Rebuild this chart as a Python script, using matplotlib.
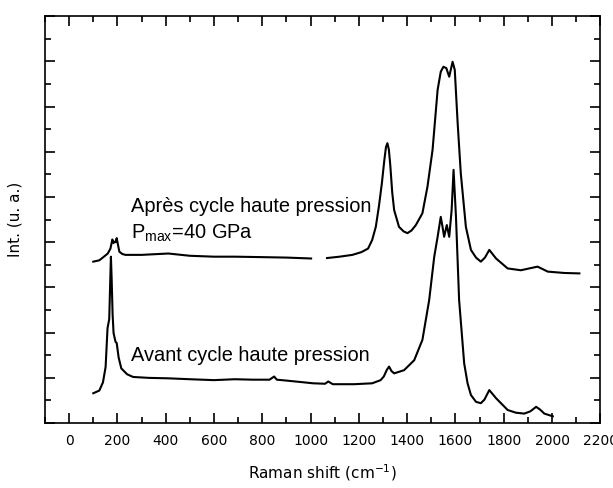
import matplotlib
matplotlib.use("Agg")
import matplotlib.pyplot as plt
from matplotlib.ticker import MultipleLocator, NullFormatter

# Avant cycle haute pression (before)
avant_x = [100, 125, 140, 151, 159, 166, 170, 173, 176, 180, 184, 192, 197, 205, 216, 240, 265, 330, 411, 500, 600, 686,
           760, 830, 849, 860, 900, 1011, 1060, 1073, 1092, 1180, 1255, 1290, 1303, 1316, 1325, 1335, 1346,
           1387, 1429, 1463, 1491, 1512, 1526, 1539, 1546, 1553, 1564, 1574, 1584, 1592, 1602, 1615, 1636,
           1650, 1664, 1685, 1705, 1720, 1740, 1768, 1816, 1850, 1885, 1910, 1934, 1950, 1968, 2003]
avant_y = [0.66, 0.72, 0.90, 1.24, 2.10, 2.30, 3.10, 3.68, 3.20, 2.40, 1.99, 1.80, 1.77, 1.45, 1.21, 1.08, 1.02, 1.00, 0.99, 0.97, 0.95, 0.97,
           0.96, 0.96, 1.03, 0.96, 0.94, 0.88, 0.87, 0.92, 0.86, 0.86, 0.88, 0.95, 1.03, 1.18, 1.25, 1.15, 1.10,
           1.17, 1.39, 1.84, 2.72, 3.68, 4.12, 4.56, 4.35, 4.12, 4.38, 4.12, 4.71, 5.60, 4.56, 2.72, 1.32,
           0.88, 0.62, 0.47, 0.44, 0.52, 0.73, 0.55, 0.29, 0.23, 0.21, 0.26, 0.36, 0.30, 0.21, 0.15]

# Après cycle haute pression (after), two segments separated by a gap
apres1_x = [100, 125, 144, 160, 171, 179, 184, 187, 192, 197, 202, 208, 220, 233, 300, 411, 500, 600, 686, 800, 900, 1002]
apres1_y = [3.57, 3.60, 3.68, 3.75, 3.86, 4.06, 3.98, 4.01, 4.00, 4.09, 3.95, 3.79, 3.74, 3.72, 3.72, 3.75, 3.70, 3.68, 3.68, 3.67, 3.66, 3.64]
apres2_x = [1068, 1120, 1173, 1210, 1238, 1255, 1270, 1283, 1295, 1305, 1312, 1318, 1324, 1330, 1338, 1346, 1366,
            1385, 1401, 1418, 1436, 1463, 1484, 1505, 1526, 1539, 1550, 1562, 1574, 1588, 1597, 1609, 1622,
            1643, 1664, 1685, 1705, 1722, 1740, 1768, 1816, 1871, 1905, 1940, 1982, 2050, 2113]
apres2_y = [3.65, 3.68, 3.72, 3.78, 3.86, 4.05, 4.34, 4.80, 5.30, 5.80, 6.10, 6.19, 6.05, 5.70, 5.10, 4.71, 4.34,
            4.24, 4.20, 4.26, 4.38, 4.64, 5.23, 6.04, 7.37, 7.77, 7.88, 7.85, 7.66, 7.99, 7.81, 6.63, 5.52,
            4.34, 3.83, 3.66, 3.57, 3.66, 3.83, 3.64, 3.42, 3.38, 3.42, 3.46, 3.35, 3.32, 3.31]

x_ticks = [0, 200, 400, 600, 800, 1000, 1200, 1400, 1600, 1800, 2000, 2200]

fig = plt.figure(figsize=(6.13, 4.88), dpi=100)
ax = fig.add_axes([0.0734, 0.133, 0.906, 0.834])

for xs, ys in [(avant_x, avant_y), (apres1_x, apres1_y), (apres2_x, apres2_y)]:
    ax.plot(xs, ys, color="black", lw=1.5)

ax.set_xlim(-100, 2200)
ax.set_ylim(0, 9)
ax.set_xticks(x_ticks)
ax.xaxis.set_minor_locator(MultipleLocator(100))
ax.yaxis.set_major_locator(MultipleLocator(1))
ax.yaxis.set_minor_locator(MultipleLocator(0.5))
ax.yaxis.set_major_formatter(NullFormatter())
ax.tick_params(which="both", direction="in", top=True, right=True, width=1.2)
ax.tick_params(which="major", length=7, labelsize=10, pad=8)
ax.tick_params(which="minor", length=4)
for s in ax.spines.values():
    s.set_linewidth(1.2)

ax.set_xlabel("Raman shift (cm$^{-1}$)", fontsize=11, labelpad=10)
ax.set_ylabel("Int. (u. a.)", fontsize=11, labelpad=8)

tf = "Liberation Sans"
ax.text(255, 4.79, "Après cycle haute pression", fontsize=14.4, family=tf, va="center")
ax.text(255, 4.2, "P$_{\\mathregular{max}}$=40 GPa", fontsize=14.4, family=tf, va="center")
ax.text(255, 1.5, "Avant cycle haute pression", fontsize=14.4, family=tf, va="center")

fig.savefig("out.png", dpi=100)
